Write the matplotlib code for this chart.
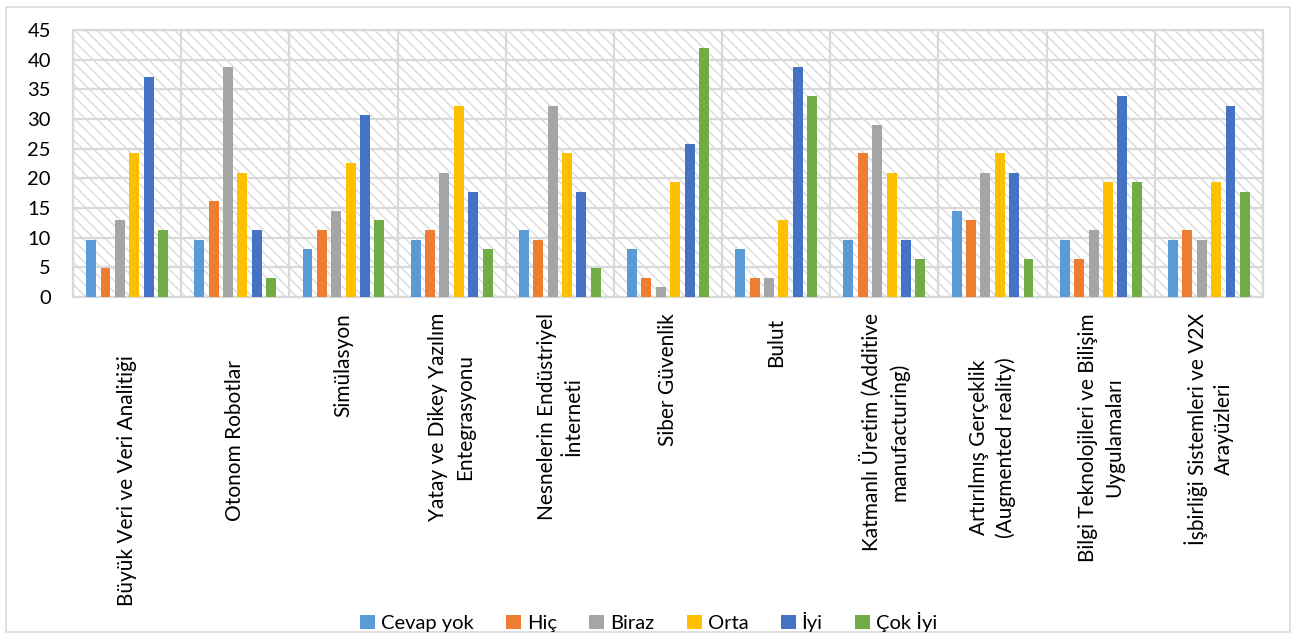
import matplotlib.pyplot as plt
import matplotlib.patches as mpatches
import matplotlib.transforms as mtransforms
import numpy as np

plt.rcParams['font.family'] = ['Lato', 'DejaVu Sans']
plt.rcParams['hatch.color'] = '#dadada'
plt.rcParams['hatch.linewidth'] = 1.0

categories = ["Büyük Veri ve Veri Analitiği",
              "Otonom Robotlar",
              "Simülasyon",
              "Yatay ve Dikey Yazılım\nEntegrasyonu",
              "Nesnelerin Endüstriyel\nİnterneti",
              "Siber Güvenlik",
              "Bulut",
              "Katmanlı Üretim (Additive\nmanufacturing)",
              "Artırılmış Gerçeklik\n(Augmented reality)",
              "Bilgi Teknolojileri ve Bilişim\nUygulamaları",
              "İşbirliği Sistemleri ve V2X\nArayüzleri"]
# some source cells carry trailing blanks -> labels start lower (pixels)
label_shift = [42, 47, 0, 0, 0, 0, 5, 0, 44, 0, 0]

series_names = ["Cevap yok", "Hiç", "Biraz", "Orta", "İyi", "Çok İyi"]
colors = ["#5b9bd5", "#ed7d31", "#a5a5a5", "#ffc000", "#4472c4", "#70ad47"]

cevap_yok = [9.68, 9.68, 8.06, 9.68, 11.29, 8.06, 8.06, 9.68, 14.52, 9.68, 9.68]
hic       = [4.84, 16.13, 11.29, 11.29, 9.68, 3.23, 3.23, 24.19, 12.90, 6.45, 11.29]
biraz     = [12.90, 38.71, 14.52, 20.97, 32.26, 1.61, 3.23, 29.03, 20.97, 11.29, 9.68]
orta      = [24.19, 20.97, 22.58, 32.26, 24.19, 19.35, 12.90, 20.97, 24.19, 19.35, 19.35]
iyi       = [37.10, 11.29, 30.65, 17.74, 17.74, 25.81, 38.71, 9.68, 20.97, 33.87, 32.26]
cok_iyi   = [11.29, 3.23, 12.90, 8.06, 4.84, 41.94, 33.87, 6.45, 6.45, 19.35, 17.74]

series = [cevap_yok, hic, biraz, orta, iyi, cok_iyi]

W, H = 1297, 637
fig = plt.figure(figsize=(W / 100, H / 100), dpi=100)
fig.patches.append(mpatches.Rectangle((6 / W, 1 - 632 / H), 1284 / W, 625 / H, transform=fig.transFigure,
                                      fill=False, edgecolor='#d9d9d9', linewidth=1.2))
ax = fig.add_axes([73 / W, 1 - 297 / H, (1263 - 73) / W, 267 / H])

n = len(categories)
x = np.arange(n)
ax.set_xlim(-0.5, n - 0.5)
ax.set_ylim(0, 45)

# hatched plot area
ax.add_patch(mpatches.Rectangle((-0.5, 0), n, 45, facecolor='white', hatch='\\\\\\',
                                edgecolor='#dadada', linewidth=0, zorder=0))

pitch = 0.133
width = 0.092
for i, (vals, name, c) in enumerate(zip(series, series_names, colors)):
    ax.bar(x + (i - 2.5) * pitch, vals, width=width, color=c, label=name, zorder=3)

ax.set_yticks(np.arange(0, 46, 5))
ax.yaxis.grid(True, color='#d9d9d9', linewidth=1.6, zorder=1)
for b in np.arange(-0.5, n, 1):
    ax.axvline(b, color='#d9d9d9', linewidth=1.6, zorder=1)
ax.set_axisbelow(True)
for s in ax.spines.values():
    s.set_color('#d9d9d9')
    s.set_linewidth(1.6)

ax.tick_params(axis='y', length=0, labelsize=14.5, pad=16)
ax.tick_params(axis='x', length=0, labelbottom=False)

lab_trans = mtransforms.blended_transform_factory(ax.transData, fig.transFigure)
for xi, lab, sh in zip(x, categories, label_shift):
    ax.text(xi, 1 - (313 + sh) / H, lab, rotation=90, ha='center', va='top', fontsize=15,
            multialignment='center', linespacing=1.4, transform=lab_trans)

fig.legend(*ax.get_legend_handles_labels(), loc='center', bbox_to_anchor=(0.5, 1 - 622 / H),
           ncol=6, frameon=False, fontsize=14.5, handlelength=0.75, handleheight=0.75,
           handletextpad=0.3, columnspacing=1.6)

fig.savefig('out.png', dpi=100)
